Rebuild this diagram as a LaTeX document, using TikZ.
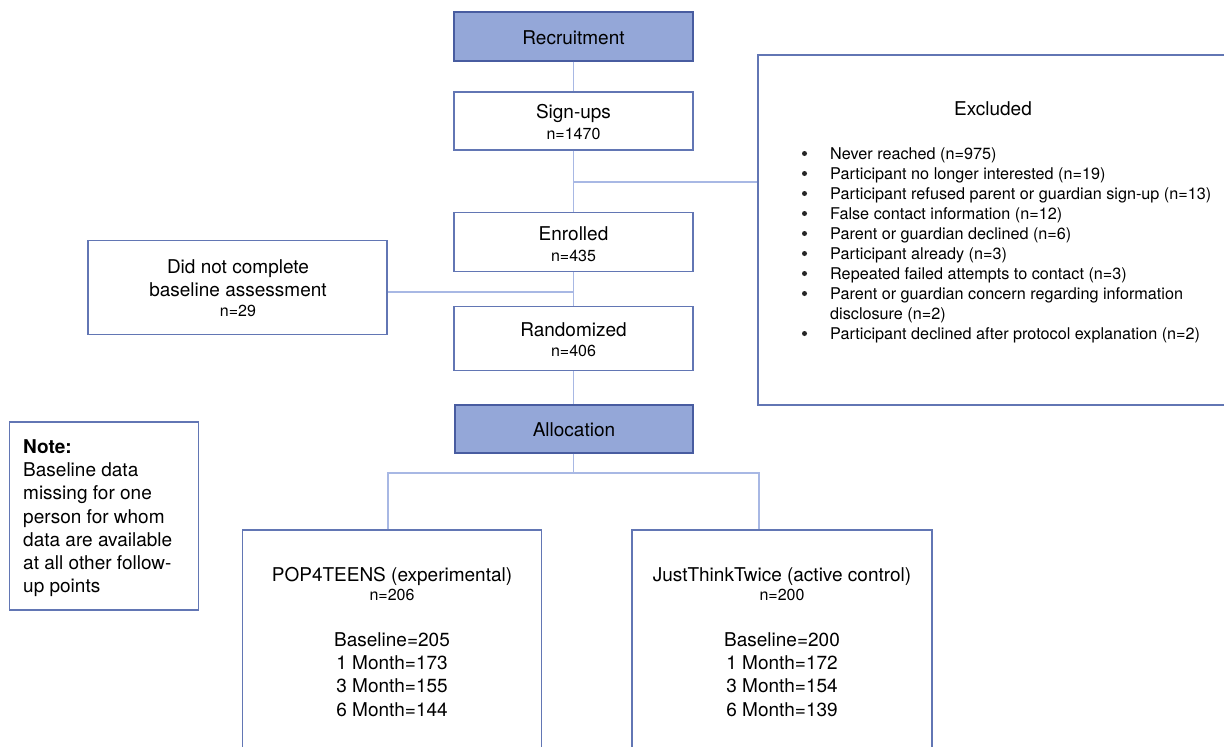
\documentclass[tikz,border=0pt]{standalone}
\usepackage{fontspec}
\setmainfont{TeX Gyre Heros}
\definecolor{hdrfill}{RGB}{148,167,216}
\definecolor{hdrdraw}{RGB}{72,92,160}
\definecolor{boxdraw}{RGB}{98,118,180}
\definecolor{linecol}{RGB}{168,184,228}
\tikzset{
  box/.style={draw=boxdraw, line width=1.3pt, fill=white, rectangle, inner sep=0pt},
  hdr/.style={box, fill=hdrfill, draw=hdrdraw},
  conn/.style={draw=linecol, line width=1.3pt},
  big/.style={font=\fontsize{19}{23}\selectfont, inner sep=0pt, anchor=base},
  sm/.style={font=\fontsize{16}{19}\selectfont, inner sep=0pt, anchor=base},
  ex/.style={font=\fontsize{16.2}{20}\selectfont, inner sep=0pt, anchor=base west},
  bul/.style={circle, fill=black!85, inner sep=0pt, minimum size=5pt},
  lft/.style={font=\fontsize{19}{23}\selectfont, inner sep=0pt, anchor=base west},
}
\begin{document}
\begin{tikzpicture}[x=1pt,y=-1pt]
\useasboundingbox (0,0) rectangle (1224,747);
\clip (0,0) rectangle (1224,747);

% boxes
\node[hdr, minimum width=239pt, minimum height=49pt] (rec) at (573.5,36.5) {};
\node[box, minimum width=239pt, minimum height=58pt] (sign) at (573.5,121) {};
\node[box, minimum width=239pt, minimum height=59pt] (enr) at (573.5,242) {};
\node[box, minimum width=239pt, minimum height=64pt] (rnd) at (573.5,338.5) {};
\node[hdr, minimum width=238pt, minimum height=48pt] (alloc) at (574,429) {};
\node[box, minimum width=299pt, minimum height=94pt] (dnc) at (237.5,287.5) {};
\node[box, minimum width=470pt, minimum height=350pt] (exc) at (993,230) {};
\node[box, minimum width=189pt, minimum height=188pt] (note) at (104,516) {};
\node[box, minimum width=299pt, minimum height=222pt] (pop) at (392,641) {};
\node[box, minimum width=300pt, minimum height=222pt] (jtt) at (782,641) {};

% texts
\node[big] (rect) at (573.5,44) {Recruitment};
\node[big] (signt) at (573.5,118.5) {Sign-ups};
\node[sm] (signn) at (573.5,139.5) {n=1470};
\node[big] (enrt) at (573.5,240) {Enrolled};
\node[sm] (enrn) at (573.5,261) {n=435};
\node[big] (rndt) at (573.5,336.7) {Randomized};
\node[sm] (rndn) at (573.5,356.7) {n=406};
\node[big] (allt) at (574,436.5) {Allocation};
\node[big] (dnct1) at (238,273.3) {Did not complete};
\node[big] (dnct2) at (238,296) {baseline assessment};
\node[sm] (dncn) at (238,316) {n=29};

\node[big] (exct) at (993,115) {Excluded};
\foreach \i/\yy in {1/159,2/179,3/199,4/219,5/239,6/259,7/279,8/299,9/339}
  \node[bul] (b\i) at (804.5,\yy-5.5) {};
\node[ex] (e1) at (830,159) {Never reached (n=975)};
\node[ex] (e2) at (830,179) {Participant no longer interested (n=19)};
\node[ex] (e3) at (830,199) {Participant refused parent or guardian sign-up (n=13)};
\node[ex] (e4) at (830,219) {False contact information (n=12)};
\node[ex] (e5) at (830,239) {Parent or guardian declined (n=6)};
\node[ex] (e6) at (830,259) {Participant already (n=3)};
\node[ex] (e7) at (830,279) {Repeated failed attempts to contact (n=3)};
\node[ex] (e8) at (830,299) {Parent or guardian concern regarding information};
\node[ex] (e8b) at (830,319) {disclosure (n=2)};
\node[ex] (e9) at (830,339) {Participant declined after protocol explanation (n=2)};

\node[lft] (n0) at (23,453) {\bfseries Note:};
\node[lft] (n1) at (23,476.3) {Baseline data};
\node[lft] (n2) at (23,499.6) {missing for one};
\node[lft] (n3) at (23,523) {person for whom};
\node[lft] (n4) at (23,546.2) {data are available};
\node[lft] (n5) at (23,569.5) {at all other follow-};
\node[lft] (n6) at (23,592.8) {up points};

\node[big] (popt) at (392,581.7) {POP4TEENS (experimental)};
\node[sm] (popn) at (392,600) {n=206};
\node[big] (pop1) at (392,646.7) {Baseline=205};
\node[big] (pop2) at (392,669.8) {1 Month=173};
\node[big] (pop3) at (392,692.9) {3 Month=155};
\node[big] (pop4) at (392,716) {6 Month=144};

\node[big] (jttt) at (782,581.7) {JustThinkTwice (active control)};
\node[sm] (jttn) at (782,600) {n=200};
\node[big] (jtt1) at (782,646.7) {Baseline=200};
\node[big] (jtt2) at (782,669.8) {1 Month=172};
\node[big] (jtt3) at (782,692.9) {3 Month=154};
\node[big] (jtt4) at (782,716) {6 Month=139};

% connectors
\draw[conn] (rec.south) -- (sign.north);
\draw[conn] (sign.south) -- (enr.north);
\coordinate (j1) at (573.5,182);
\draw[conn] (j1) -- (j1 -| exc.west);
\draw[conn] (enr.south) -- (rnd.north);
\coordinate (j2) at (573.5,292);
\draw[conn] (j2) -- (j2 -| dnc.east);
\draw[conn] (rnd.south) -- (rnd.south |- alloc.north);
\coordinate (j3) at (573.5,473);
\coordinate (jl) at (388,473);
\coordinate (jr) at (759,473);
\draw[conn] (j3 |- alloc.south) -- (j3);
\draw[conn] (jl |- pop.north) -- (jl) -- (jr) -- (jr |- jtt.north);
\end{tikzpicture}
\end{document}
